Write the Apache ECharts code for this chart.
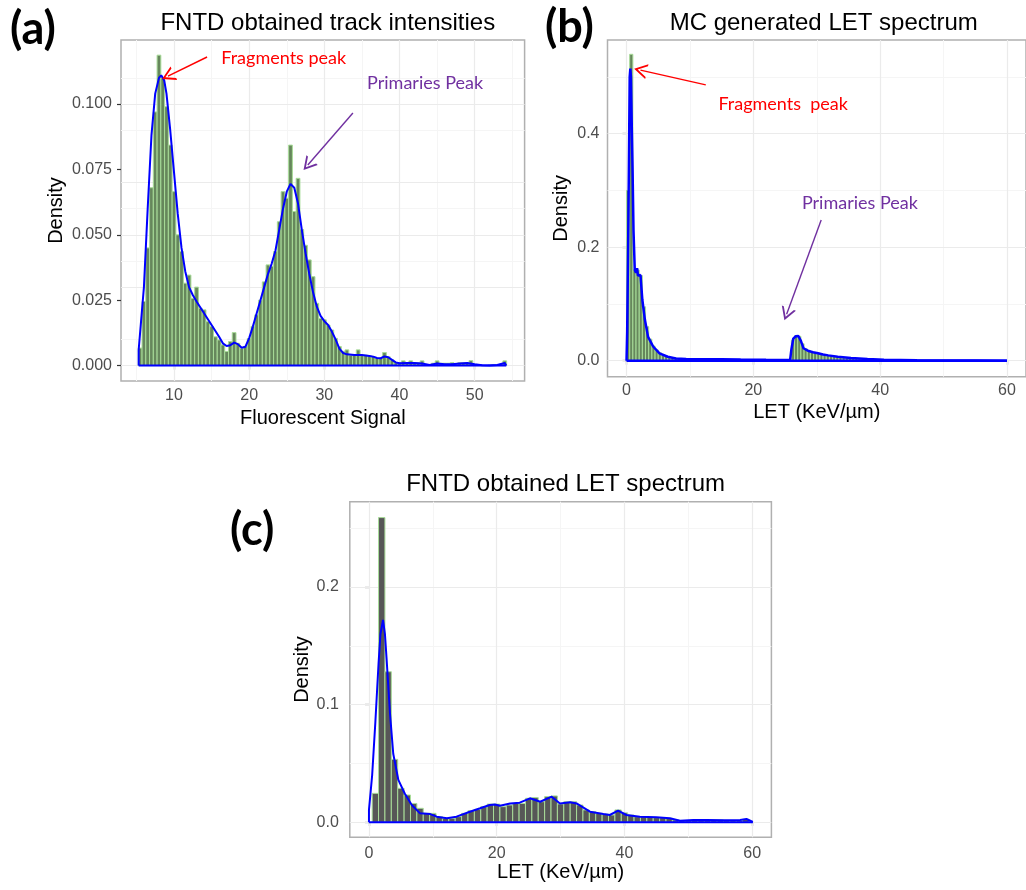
<!DOCTYPE html>
<html><head><meta charset="utf-8">
<script src="https://cdn.jsdelivr.net/npm/echarts@6/dist/echarts.min.js"></script>
<style>html,body{margin:0;padding:0;background:#fff}#c{width:1026px;height:890px}</style>
</head><body><div id="c"></div>
<script>
// ---------------- DATA ----------------
// (a) FNTD track intensities: histogram, bin width 0.5, first bin centred at 5.5
const aBinWidth = 0.5, aFirstCenter = 5.5;
const aDensityBins = [
 0.0067,0.0245,0.045,0.068,0.097,0.1187,0.110,0.099,0.0843,0.0665,
 0.050,0.0436,0.0315,0.0346,0.0257,0.030,0.0219,0.0213,0.0168,0.0149,
 0.011,0.0098,0.0079,0.0054,0.0092,0.0126,0.0085,0.0066,0.0073,0.0104,
 0.015,0.0194,0.025,0.032,0.0385,0.038,0.0436,0.055,0.0665,0.064,
 0.0843,0.0589,0.0716,0.052,0.046,0.0404,0.034,0.0238,0.018,0.0175,
 0.0155,0.0136,0.0104,0.0073,0.0054,0.006,0.004,0.004,0.006,0.004,
 0.004,0.0037,0.0034,0.0028,0.0028,0.005,0.0034,0.0022,0.0011,0.0011,
 0.0018,0.0011,0.0018,0.0011,0.0011,0.0018,0.0003,0.0003,0.0009,0.0018,
 0.0009,0.0009,0.0009,0.0011,0.0005,0.0011,0.0011,0.0011,0.0019,0.0005,
 0.0002,0,0,0.0002,0.0003,0.0003,0.0005,0.0018
];
const aDensityCurve = [
 [5.3,0],[5.3,0.006],[6.0,0.030],[6.5,0.060],[7.0,0.088],[7.5,0.104],[8.0,0.110],[8.3,0.111],
 [8.7,0.109],[9.0,0.104],[9.5,0.090],[10,0.074],[10.5,0.058],[11,0.045],[11.5,0.036],[12,0.030],
 [12.5,0.027],[13,0.0245],[14,0.020],[15,0.0155],[16,0.011],[16.5,0.0085],[17,0.0075],[17.5,0.0078],
 [18,0.0088],[18.5,0.0082],[19,0.0068],[19.5,0.0072],[20,0.0105],[20.5,0.015],[21,0.020],[21.5,0.025],
 [22,0.030],[22.5,0.035],[23,0.039],[23.5,0.044],[24,0.052],[24.5,0.060],[25,0.0665],[25.5,0.0695],
 [26,0.068],[26.5,0.062],[27,0.052],[27.5,0.043],[28,0.035],[28.5,0.028],[29,0.0225],[29.5,0.019],
 [30,0.017],[30.5,0.0155],[31,0.013],[31.5,0.010],[32,0.0065],[32.5,0.0048],[33,0.0043],[34,0.0040],
 [35,0.0040],[36,0.0037],[36.5,0.0034],[37,0.0029],[37.5,0.0028],[38,0.0035],[38.5,0.0032],[39,0.0022],
 [39.5,0.0012],[40,0.0009],[41,0.0010],[42,0.0010],[43,0.0008],[44,0.0002],[45,0.0008],[46,0.0005],
 [47,0.0005],[48,0.0008],[49,0.0010],[50,0.0005],[51,0.0001],[52,0.0],[53,0.0002],[54,0.001],[54.2,0.0013],[54.2,0]
];
const aXTicks = [10,20,30,40,50];
const aYTicks = [0,0.025,0.05,0.075,0.1];

// (b) MC generated LET spectrum: bin width 0.5, first bin centred at 0.25
const bBinWidth = 0.5, bFirstCenter = 0.25;
const bDensityBins = [
 0.30,0.54,0.16,0.16,0.15,0.095,0.06,0.038,0.026,0.019,
 0.014,0.011,0.008,0.0065,0.0055,0.0045,0.004,0.0035,0.003,0.003,
 0.0028,0.0026,0.0025,0.0024,0.0024,0.0023,0.0022,0.0022,0.0021,0.0021,
 0.0021,0.0022,0.0021,0.002,0.002,0.0019,0.0019,0.0018,0.0018,0.0017,
 0.0017,0.0016,0.0016,0.0015,0.0015,0.0014,0.0014,0.0014,0.0013,0.0013,0.0013,0.0012,
 0.036,0.044,0.043,0.03,0.021,0.018,0.016,0.0145,0.013,0.012,
 0.0105,0.0095,0.0085,0.0078,0.007,0.0063,0.0057,0.0052,0.0048,0.0044,
 0.004,0.0037,0.0034,0.0032,0.003,0.0028,0.0026,0.0024,0.0022,0.002,
 0.0019,0.0018,0.0016,0.0015,0.0014,0.0013,0.0012,0.0011,
 0.001,0.001,0.0009,0.0009,0.0008,0.0008,0.0007,0.0007,0.0006,0.0006,
 0.0005,0.0005,0.0005,0.0004,0.0004,0.0004,0.0003,0.0003,0.0003,0.0003,
 0.0003,0.0002,0.0002,0.0002,0.0002,0.0002,0.0001,0.0001,0.0001,0.0001
];
const bDensityCurve = [
 [0,0],[0.1,0.05],[0.3,0.25],[0.5,0.50],[0.6,0.515],[0.7,0.50],[0.85,0.40],[0.95,0.34],[1.1,0.23],
 [1.3,0.16],[1.5,0.155],[1.67,0.163],[1.8,0.15],[1.95,0.152],[2.2,0.151],[2.5,0.107],[2.9,0.072],
 [3.4,0.042],[4.2,0.025],[5.2,0.013],[6.5,0.007],[7.8,0.004],[9.4,0.003],[12,0.0025],[15,0.0025],
 [18,0.002],[22,0.0015],[25.8,0.0012],[26.0,0.02],[26.3,0.039],[26.7,0.043],[27.1,0.0435],[27.5,0.035],
 [27.9,0.022],[28.6,0.0176],[29.4,0.015],[30.2,0.013],[31,0.011],[31.8,0.0094],[33.3,0.007],[35.4,0.0047],
 [38,0.003],[40.6,0.0018],[45.8,0.0006],[50,0.0003],[55,0.0002],[60,0.0001],[60,0]
];
const bXTicks = [0,20,40,60];
const bYTicks = [0,0.2,0.4];

// (c) FNTD obtained LET spectrum: bin width 1, first bin centred at 1
const cBinWidth = 1, cFirstCenter = 1;
const cDensityBins = [
 0.0246,0.259,0.128,0.0535,0.0289,0.0232,0.016,0.0119,0.0076,0.0076,
 0.0048,0.0034,0.0034,0.0048,0.0076,0.0099,0.011,0.0133,0.0155,0.0155,
 0.0133,0.0147,0.016,0.016,0.0204,0.021,0.0175,0.0218,0.0224,0.0156,
 0.0175,0.0175,0.0147,0.0105,0.009,0.0076,0.007,0.0062,0.0105,0.008,
 0.0062,0.0048,0.0048,0.0043,0.004,0.004,0.0034,0.002,0.0014,0.0014,
 0.002,0.002,0.002,0.002,0.002,0.0014,0.0014,0.0014,0.0025
];
const cDensityCurve = [
 [0,0],[0,0.0105],[0.5,0.04],[1.0,0.085],[1.5,0.135],[1.8,0.16],[2.2,0.172],[2.5,0.16],[2.77,0.138],
 [3.3,0.092],[3.8,0.0583],[4.6,0.036],[5.6,0.0245],[6.7,0.0147],[8.0,0.0076],[9.6,0.007],[10.6,0.0048],
 [12.2,0.0034],[13.7,0.0048],[15.8,0.009],[17.4,0.0119],[18.9,0.0147],[19.7,0.0152],[20.5,0.014],
 [22.1,0.016],[23.6,0.0167],[25.2,0.0204],[26.8,0.0175],[28.6,0.0218],[29.9,0.016],[31.5,0.017],
 [32.5,0.016],[34.6,0.009],[36.7,0.007],[37.7,0.0062],[39,0.0099],[40.3,0.0062],[42.4,0.0048],
 [45,0.0043],[47.1,0.0034],[48.7,0.0014],[50.8,0.002],[52.9,0.002],[55.5,0.0018],[58.1,0.002],
 [59.1,0.0028],[60.1,0.0003],[60.1,0]
];
const cXTicks = [0,20,40,60];
const cYTicks = [0,0.1,0.2];

// annotations (data coordinates)
const aNotes = [
 {text:'Fragments peak', at:[24.6,0.1176], from:[14.4,0.1180], to:[9.2,0.1107], color:'#ff0000'},
 {text:'Primaries Peak', at:[43.4,0.1080], from:[33.8,0.0966], to:[27.8,0.0767], color:'#7030a0'}
];
const bNotes = [
 {text:'Fragments  peak', at:[24.7,0.452], from:[12.5,0.486], to:[2.2,0.512], color:'#ff0000'},
 {text:'Primaries Peak', at:[36.8,0.278], from:[30.7,0.248], to:[25.25,0.082], color:'#7030a0'}
];

// ---------------- CHART ----------------
const FONT = '"Liberation Sans", Arial, sans-serif';
const NOTEFONT = 'Lato, "Open Sans", sans-serif';
const chart = echarts.init(document.getElementById('c'), null, {renderer:'canvas'});

function bins(first, width, vals){ return vals.map((v,i)=>[first + i*width, v]); }

function histSeries(idx, data, width, fill, stroke){
  return {
    type:'custom', xAxisIndex:idx, yAxisIndex:idx, z:2, silent:true,
    encode:{x:0, y:1}, data:data,
    renderItem:function(params, api){
      const x = api.value(0), y = api.value(1);
      const p1 = api.coord([x - width/2, y]);
      const p2 = api.coord([x + width/2, 0]);
      return {type:'rect', shape:{x:p1[0], y:p1[1], width:p2[0]-p1[0], height:p2[1]-p1[1]},
              style:{fill:fill, stroke:stroke, lineWidth:1}};
    }
  };
}

function gridSeries(idx, xMajor, xMinor, yMajor, yMinor){
  const d = [];
  xMinor.forEach(v=>d.push({xAxis:v, lineStyle:{color:'#f5f5f5', width:1, type:'solid'}}));
  yMinor.forEach(v=>d.push({yAxis:v, lineStyle:{color:'#f5f5f5', width:1, type:'solid'}}));
  xMajor.forEach(v=>d.push({xAxis:v, lineStyle:{color:'#ebebeb', width:1.2, type:'solid'}}));
  yMajor.forEach(v=>d.push({yAxis:v, lineStyle:{color:'#ebebeb', width:1.2, type:'solid'}}));
  return {type:'line', xAxisIndex:idx, yAxisIndex:idx, z:1, silent:true, data:[[xMajor[0], yMajor[0]]],
    showSymbol:false, symbol:'none', lineStyle:{opacity:0},
    markLine:{silent:true, z:1, symbol:['none','none'], label:{show:false}, animation:false,
      lineStyle:{type:'solid'}, emphasis:{disabled:true}, data:d}};
}

const CHEVRON = 'path://M5,0 L10,10 L8.6,10 L5,2.8 L1.4,10 L0,10 Z';
function densitySeries(idx, data, width, notes){
  const s = {type:'line', xAxisIndex:idx, yAxisIndex:idx, z:3, silent:true, data:data,
    showSymbol:false, symbol:'none', smooth:false,
    lineStyle:{color:'#0000ff', width:width}};
  if (notes) {
    s.markPoint = {silent:true, animation:false, z:6, data: notes.map(n=>({
      coord:n.at, symbol:'circle', symbolSize:0,
      label:{show:true, position:'inside', formatter:n.text, color:n.color, fontSize:18, fontFamily:NOTEFONT}
    }))};
    s.markLine = {silent:true, animation:false, z:6, label:{show:false}, data: notes.map(n=>[
      {coord:n.from, symbol:'none', lineStyle:{color:n.color, width:1.4, type:'solid'}},
      {coord:n.to, symbol:CHEVRON, symbolSize:[15,13], lineStyle:{color:n.color, width:1.4, type:'solid'}}
    ])};
  }
  return s;
}

function xAxis(idx, min, max, ticks, fmt, name, gap, margin){
  return {type:'value', gridIndex:idx, min:min, max:max, splitLine:{show:false},
    axisLine:{show:false},
    axisTick:{show:true, inside:false, length:4, customValues:ticks, lineStyle:{color:'#333', width:1.2}},
    axisLabel:{customValues:ticks, formatter:fmt, color:'#4d4d4d', fontSize:16, fontFamily:FONT, margin:margin},
    name:name, nameLocation:'middle', nameGap:gap, nameTextStyle:{color:'#000', fontSize:20, fontFamily:FONT}};
}
function yAxis(idx, min, max, ticks, fmt, gap, margin){
  return {type:'value', gridIndex:idx, min:min, max:max, splitLine:{show:false},
    axisLine:{show:false},
    axisTick:{show:true, inside:false, length:4, customValues:ticks, lineStyle:{color:'#333', width:1.2}},
    axisLabel:{customValues:ticks, formatter:fmt, color:'#4d4d4d', fontSize:16, fontFamily:FONT, margin:margin},
    name:'Density', nameLocation:'middle', nameGap:gap, nameTextStyle:{color:'#000', fontSize:20, fontFamily:FONT}};
}

const gridStyle = {show:true, backgroundColor:'#ffffff', borderColor:'#b0b0b0', borderWidth:1.5, containLabel:false};

const option = {
  animation:false,
  backgroundColor:'#ffffff',
  title:[
    {text:'FNTD obtained track intensities', left:322.8, top:6, textAlign:'center', textStyle:{fontSize:24, fontWeight:'normal', color:'#000', fontFamily:FONT}},
    {text:'MC generated LET spectrum', left:818.7, top:6, textAlign:'center', textStyle:{fontSize:24, fontWeight:'normal', color:'#000', fontFamily:FONT}},
    {text:'FNTD obtained LET spectrum', left:560.6, top:467, textAlign:'center', textStyle:{fontSize:24, fontWeight:'normal', color:'#000', fontFamily:FONT}},
    {text:'(a)', left:5, top:2, textStyle:{fontSize:45, fontWeight:'bold', color:'#000', fontFamily:NOTEFONT}},
    {text:'(b)', left:540, top:0, textStyle:{fontSize:45, fontWeight:'bold', color:'#000', fontFamily:NOTEFONT}},
    {text:'(c)', left:225, top:503, textStyle:{fontSize:45, fontWeight:'bold', color:'#000', fontFamily:NOTEFONT}}
  ],
  grid:[
    Object.assign({left:121, top:40, width:403.6, height:341}, gridStyle),
    Object.assign({left:607.5, top:40, width:422.4, height:336.7}, gridStyle),
    Object.assign({left:349.8, top:501.7, width:421.6, height:335.6}, gridStyle)
  ],
  xAxis:[
    xAxis(0, 2.95, 56.64, aXTicks, v=>String(v), 'Fluorescent Signal', 27, 7),
    xAxis(1, -3, 63, bXTicks, v=>String(v), 'LET (KeV/µm)', 26, 6),
    xAxis(2, -3, 63, cXTicks, v=>String(v), 'LET (KeV/µm)', 25, 8)
  ],
  yAxis:[
    yAxis(0, -0.0059, 0.1245, aYTicks, v=>v.toFixed(3), 55, 9),
    yAxis(1, -0.0282, 0.5652, bYTicks, v=>v.toFixed(1), 36, 8),
    yAxis(2, -0.01275, 0.2725, cYTicks, v=>v.toFixed(1), 37, 11)
  ],
  series:[
    gridSeries(0, aXTicks, [5,15,25,35,45,55], aYTicks, [0.0125,0.0375,0.0625,0.0875,0.1125]),
    gridSeries(1, bXTicks, [10,30,50], bYTicks, [0.1,0.3,0.5]),
    gridSeries(2, cXTicks, [10,30,50], cYTicks, [0.05,0.15,0.25]),
    histSeries(0, bins(aFirstCenter, aBinWidth, aDensityBins), aBinWidth, '#66875c', '#a8dc98'),
    histSeries(1, bins(bFirstCenter, bBinWidth, bDensityBins), bBinWidth, '#66875c', '#a8dc98'),
    histSeries(2, bins(cFirstCenter, cBinWidth, cDensityBins), cBinWidth, '#575757', '#a8dc98'),
    densitySeries(0, aDensityCurve, 2, aNotes),
    densitySeries(1, bDensityCurve, 2.5, bNotes),
    densitySeries(2, cDensityCurve, 2, null),
    {type:'line', xAxisIndex:0, yAxisIndex:0, z:3, silent:true, showSymbol:false, symbol:'none',
     data:[[aDensityCurve[0][0],0],[aDensityCurve[aDensityCurve.length-1][0],0]], lineStyle:{color:'#0000ff', width:2}},
    {type:'line', xAxisIndex:1, yAxisIndex:1, z:3, silent:true, showSymbol:false, symbol:'none',
     data:[[bDensityCurve[0][0],0],[bDensityCurve[bDensityCurve.length-1][0],0]], lineStyle:{color:'#0000ff', width:2.5}},
    {type:'line', xAxisIndex:2, yAxisIndex:2, z:3, silent:true, showSymbol:false, symbol:'none',
     data:[[cDensityCurve[0][0],0],[cDensityCurve[cDensityCurve.length-1][0],0]], lineStyle:{color:'#0000ff', width:2}}
  ]
};
chart.setOption(option);
</script></body></html>
